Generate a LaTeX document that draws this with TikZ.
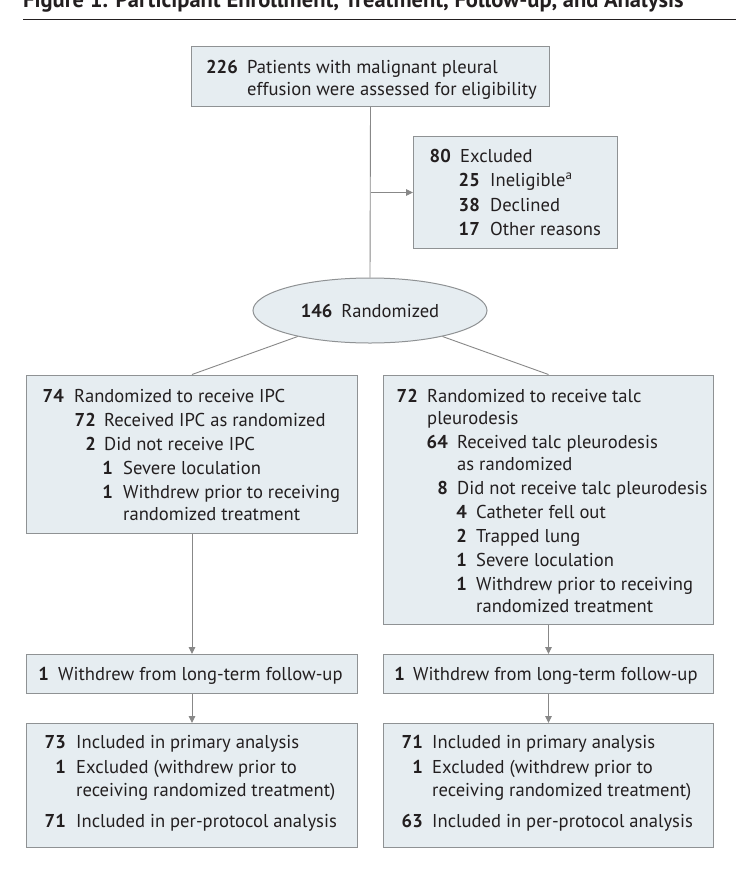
\documentclass[tikz,border=0pt]{standalone}
\usepackage{fontspec}
\setmainfont{PT Sans}
\usetikzlibrary{arrows.meta,shapes.geometric}
\definecolor{boxfill}{HTML}{E6EDF1}
\definecolor{boxline}{HTML}{8F9294}
\definecolor{connc}{HTML}{888888}
\definecolor{ink}{HTML}{231F20}
\newcommand\fsz{\fontsize{18.6}{22}\selectfont}
\newcommand\nrow[6]{%
  \node[num] (#1n) at (#3,#5) {#2};
  \node[txt] (#1t) at (#4,#5) {#6};}
\newcommand\trow[4]{\node[txt] (#1) at (#2,#3) {#4};}
\begin{document}
\begin{tikzpicture}[x=1pt,y=-1pt,
  box/.style={draw=boxline, fill=boxfill, line width=1pt, inner sep=0pt, anchor=north west},
  conn/.style={draw=connc, line width=0.9pt},
  arr/.style={conn, -{Triangle[length=7pt,width=6.5pt]}},
  num/.style={anchor=base east, inner sep=0pt, font=\fsz\bfseries, text=ink},
  txt/.style={anchor=base west, inner sep=0pt, font=\fsz, text=ink},
]
\useasboundingbox (0,0) rectangle (736,873);
\clip (0,0) rectangle (736,873);
\fill[white] (0,0) rectangle (736,873);

% title
\node[anchor=base west, inner sep=0pt, font=\fontsize{22.5}{26}\selectfont\bfseries, text=ink] (title) at (23,7.5) {Figure 1. Participant Enrollment, Treatment, Follow-up, and Analysis};
\coordinate (r0) at (23,19.5);
\coordinate (r1) at (736,19.5);
\draw[ink, line width=1.6pt] (r0) -- (r1);

% boxes
\node[box, minimum width=358pt, minimum height=60pt] (top) at (191,46) {};
\node[box, minimum width=204pt, minimum height=112pt] (excl) at (413,136) {};
\node[ellipse, draw=boxline, fill=boxfill, line width=1pt, inner sep=0pt,
      minimum width=234pt, minimum height=65pt, font=\fsz, text=ink] (rand) at (370,310.5)
      {\textbf{146}\hspace{9pt}Randomized};
\node[box, minimum width=331pt, minimum height=158pt] (L) at (26,374.5) {};
\node[box, minimum width=330pt, minimum height=249.5pt] (R) at (383,374.5) {};
\node[box, minimum width=331pt, minimum height=39pt] (LW) at (26,654) {};
\node[box, minimum width=330pt, minimum height=39pt] (RW) at (383,654) {};
\node[box, minimum width=331pt, minimum height=124pt] (LF) at (26,723) {};
\node[box, minimum width=330pt, minimum height=124pt] (RF) at (383,723) {};

% connectors
\draw[conn] (top.south) -- (rand.north);
\coordinate (split) at (top.south |- excl.west);
\draw[arr] (split) -- (excl.west);
\draw[conn] (rand) -- (L.north);
\draw[conn] (rand) -- (R.north);
\draw[arr] (L.south) -- (LW.north);
\draw[arr] (R.south) -- (RW.north);
\draw[arr] (LW.south) -- (LF.north);
\draw[arr] (RW.south) -- (RF.north);

% top box text
\nrow{a1}{226}{238}{247}{73}{Patients with malignant pleural}
\trow{a2}{247}{95}{effusion were assessed for eligibility}

% excluded
\nrow{e1}{80}{451}{460}{162}{Excluded}
\nrow{e2}{25}{480}{490}{186}{Ineligible\textsuperscript{a}}
\nrow{e3}{38}{480}{490}{211}{Declined}
\nrow{e4}{17}{480}{490}{235}{Other reasons}

% left box
\nrow{l1}{74}{64}{74}{402}{Randomized to receive IPC}
\nrow{l2}{72}{96}{104}{426}{Received IPC as randomized}
\nrow{l3}{2}{96}{104}{450}{Did not receive IPC}
\nrow{l4}{1}{113}{123}{474}{Severe loculation}
\nrow{l5}{1}{113}{123}{498}{Withdrew prior to receiving}
\trow{l6}{123}{520}{randomized treatment}

% right box
\nrow{r1}{72}{418}{427}{402}{Randomized to receive talc}
\trow{r2}{427}{424}{pleurodesis}
\nrow{r3}{64}{448}{457}{448}{Received talc pleurodesis}
\trow{r4}{457}{470}{as randomized}
\nrow{r5}{8}{448}{457}{494}{Did not receive talc pleurodesis}
\nrow{r6}{4}{467}{476}{518}{Catheter fell out}
\nrow{r7}{2}{467}{476}{542}{Trapped lung}
\nrow{r8}{1}{467}{476}{566}{Severe loculation}
\nrow{r9}{1}{467}{476}{590}{Withdrew prior to receiving}
\trow{r10}{476}{612}{randomized treatment}

% withdrew boxes
\nrow{w1}{1}{49}{58}{680}{Withdrew from long-term follow-up}
\nrow{w2}{1}{405}{413}{680}{Withdrew from long-term follow-up}

% final boxes
\nrow{f1}{73}{66}{76}{748}{Included in primary analysis}
\nrow{f2}{1}{66}{76}{773}{Excluded (withdrew prior to}
\trow{f3}{76}{796}{receiving randomized treatment)}
\nrow{f4}{71}{66}{76}{827}{Included in per-protocol analysis}

\nrow{g1}{71}{423}{432}{748}{Included in primary analysis}
\nrow{g2}{1}{423}{432}{773}{Excluded (withdrew prior to}
\trow{g3}{432}{796}{receiving randomized treatment)}
\nrow{g4}{63}{423}{432}{827}{Included in per-protocol analysis}
\end{tikzpicture}
\end{document}
